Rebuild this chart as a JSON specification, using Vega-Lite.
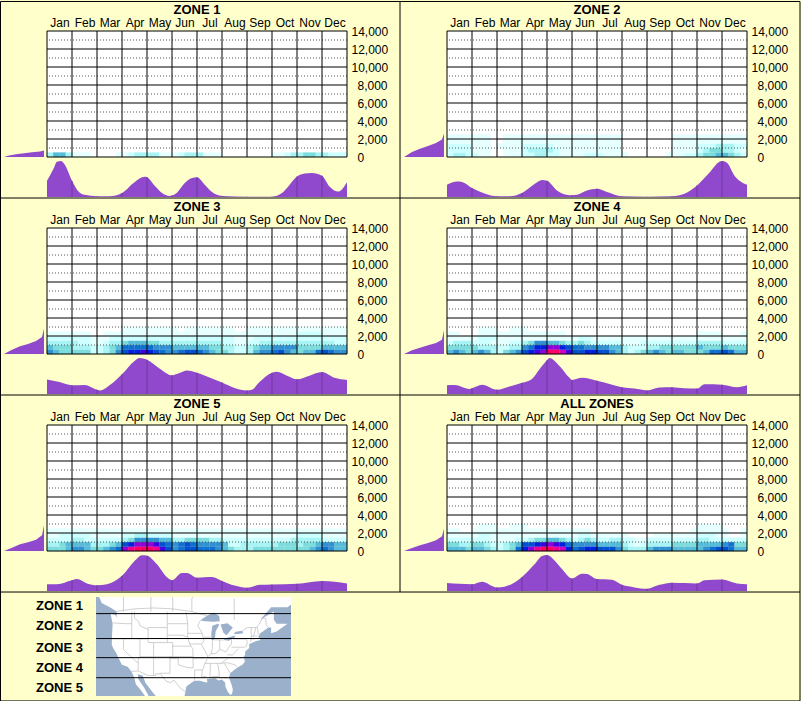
{"$schema":"https://vega.github.io/schema/vega-lite/v6.json","background":"#ffffcc","padding":0,
"config":{"view":{"stroke":null},"font":"Liberation Sans","range":{"ordinal":["#e6ffff","#ccffff","#a8f4f4","#7cdcdc","#55bbd8","#3090d0","#1070d0","#0050d0","#0020e0","#4000e0","#9000d8","#d000c0","#f00090","#ff0060"]},"axis":{"labelFont":"Liberation Sans","labelFontSize":12,"labelColor":"#000"}},
"datasets":{
"none":[{"a":0}],
"yd":[{"e":1000},{"e":3000},{"e":5000},{"e":7000},{"e":9000},{"e":11000},{"e":13000}],
"ys":[{"e":0},{"e":2000},{"e":4000},{"e":6000},{"e":8000},{"e":10000},{"e":12000},{"e":14000}],
"mg":[{"w":-0.5},{"w":3.5},{"w":7.5},{"w":11.5},{"w":15.5},{"w":19.5},{"w":23.5},{"w":27.5},{"w":31.5},{"w":35.5},{"w":39.5},{"w":43.5},{"w":47.5}],
"frame":[{"x":0.00125,"x2":2,"y":0.0025,"y2":0.0025},{"x":0.00125,"x2":2,"y":1,"y2":1},{"x":0.00125,"x2":2,"y":2,"y2":2},{"x":0.00125,"x2":2,"y":3,"y2":3},{"x":0.00125,"x2":2,"y":3.553,"y2":3.553},{"x":0.00125,"x2":0.00125,"y":0.0025,"y2":3.553},{"x":1,"x2":1,"y":0.0025,"y2":3},{"x":2,"x2":2,"y":0.0025,"y2":3.553}],
"l1":[{"f":0,"h":0},{"f":10,"h":130},{"f":30,"h":300},{"f":50,"h":420},{"f":70,"h":530},{"f":90,"h":620},{"f":100,"h":720}],
"l2":[{"f":0,"h":0},{"f":20,"h":555},{"f":40,"h":925},{"f":60,"h":1220},{"f":80,"h":1555},{"f":95,"h":1950},{"f":100,"h":2600}],
"l3":[{"f":0,"h":0},{"f":20,"h":480},{"f":40,"h":850},{"f":60,"h":1110},{"f":80,"h":1440},{"f":95,"h":1890},{"f":100,"h":2800}],
"l4":[{"f":0,"h":0},{"f":20,"h":410},{"f":40,"h":700},{"f":60,"h":960},{"f":80,"h":1220},{"f":95,"h":1590},{"f":100,"h":2630}],
"l5":[{"f":0,"h":0},{"f":20,"h":370},{"f":40,"h":740},{"f":60,"h":960},{"f":80,"h":1260},{"f":95,"h":1740},{"f":100,"h":2850}],
"l6":[{"f":0,"h":0},{"f":20,"h":330},{"f":40,"h":630},{"f":60,"h":890},{"f":80,"h":1185},{"f":95,"h":1630},{"f":100,"h":2480}],
"b1":[{"t":0,"v":45},{"t":0.25,"v":77},{"t":0.4,"v":98},{"t":0.55,"v":100},{"t":0.7,"v":91},{"t":1,"v":45},{"t":1.25,"v":16},{"t":1.5,"v":6},{"t":2,"v":2},{"t":2.5,"v":2},{"t":3,"v":11},{"t":3.5,"v":41},{"t":3.9,"v":56},{"t":4,"v":55},{"t":4.3,"v":32},{"t":4.6,"v":11},{"t":4.9,"v":3},{"t":5,"v":4},{"t":5.2,"v":12},{"t":5.5,"v":38},{"t":5.8,"v":53},{"t":6,"v":55},{"t":6.3,"v":35},{"t":6.6,"v":14},{"t":7,"v":3},{"t":8,"v":1},{"t":9,"v":1},{"t":9.4,"v":11},{"t":9.6,"v":25},{"t":10,"v":57},{"t":10.3,"v":65},{"t":10.6,"v":67},{"t":11,"v":59},{"t":11.3,"v":29},{"t":11.65,"v":15},{"t":12,"v":41}],
"b2":[{"t":0,"v":34},{"t":0.4,"v":43},{"t":0.6,"v":42},{"t":1,"v":25},{"t":1.5,"v":10},{"t":2,"v":2},{"t":2.5,"v":2},{"t":3,"v":11},{"t":3.5,"v":36},{"t":3.8,"v":47},{"t":4,"v":45},{"t":4.4,"v":18},{"t":4.9,"v":5},{"t":5,"v":5},{"t":5.2,"v":6},{"t":5.6,"v":18},{"t":6,"v":23},{"t":6.4,"v":14},{"t":6.9,"v":3},{"t":7,"v":2},{"t":8,"v":1},{"t":9,"v":2},{"t":9.5,"v":9},{"t":10,"v":32},{"t":10.5,"v":68},{"t":10.9,"v":98},{"t":11,"v":100},{"t":11.2,"v":95},{"t":11.5,"v":59},{"t":11.7,"v":45},{"t":12,"v":34}],
"b3":[{"t":0,"v":40},{"t":0.5,"v":33},{"t":1,"v":24},{"t":1.5,"v":25},{"t":2,"v":12},{"t":2.15,"v":10},{"t":2.5,"v":24},{"t":3,"v":55},{"t":3.5,"v":92},{"t":3.7,"v":100},{"t":4,"v":95},{"t":4.5,"v":71},{"t":5,"v":52},{"t":5.3,"v":58},{"t":5.6,"v":65},{"t":6,"v":59},{"t":6.5,"v":46},{"t":7,"v":32},{"t":7.5,"v":17},{"t":8,"v":10},{"t":8.2,"v":12},{"t":8.5,"v":33},{"t":9,"v":59},{"t":9.2,"v":62},{"t":9.6,"v":51},{"t":10,"v":41},{"t":10.5,"v":51},{"t":11,"v":61},{"t":11.5,"v":45},{"t":12,"v":39}],
"b4":[{"t":0,"v":24},{"t":0.3,"v":25},{"t":0.9,"v":14},{"t":1,"v":16},{"t":1.4,"v":26},{"t":2,"v":12},{"t":2.5,"v":21},{"t":3,"v":31},{"t":3.4,"v":42},{"t":3.7,"v":69},{"t":4,"v":94},{"t":4.1,"v":100},{"t":4.5,"v":78},{"t":4.9,"v":45},{"t":5,"v":39},{"t":5.4,"v":45},{"t":6,"v":37},{"t":6.5,"v":28},{"t":7,"v":19},{"t":7.5,"v":15},{"t":8,"v":10},{"t":8.5,"v":18},{"t":9,"v":19},{"t":9.5,"v":16},{"t":10,"v":15},{"t":10.3,"v":27},{"t":11,"v":26},{"t":11.6,"v":19},{"t":12,"v":24}],
"b5":[{"t":0,"v":19},{"t":0.4,"v":19},{"t":1,"v":30},{"t":1.2,"v":33},{"t":1.6,"v":21},{"t":2,"v":16},{"t":2.4,"v":19},{"t":3,"v":42},{"t":3.5,"v":83},{"t":3.8,"v":99},{"t":4,"v":98},{"t":4.4,"v":74},{"t":4.8,"v":38},{"t":5,"v":30},{"t":5.4,"v":50},{"t":5.6,"v":50},{"t":6,"v":37},{"t":6.6,"v":39},{"t":7,"v":28},{"t":7.5,"v":15},{"t":8,"v":9},{"t":8.5,"v":17},{"t":9,"v":18},{"t":10,"v":20},{"t":11,"v":28},{"t":11.5,"v":26},{"t":12,"v":21}],
"b6":[{"t":0,"v":22},{"t":0.5,"v":20},{"t":1,"v":19},{"t":1.4,"v":26},{"t":2,"v":10},{"t":2.3,"v":12},{"t":3,"v":39},{"t":3.5,"v":74},{"t":3.8,"v":97},{"t":4,"v":100},{"t":4.3,"v":85},{"t":4.6,"v":61},{"t":5,"v":35},{"t":5.4,"v":48},{"t":5.6,"v":47},{"t":6,"v":33},{"t":6.6,"v":31},{"t":7,"v":17},{"t":7.5,"v":10},{"t":8,"v":6},{"t":8.5,"v":17},{"t":9,"v":23},{"t":9.5,"v":22},{"t":10,"v":21},{"t":10.3,"v":30},{"t":11,"v":32},{"t":11.6,"v":21},{"t":12,"v":19}],
"h1":[{"w":0,"e":250,"n":3},{"w":1,"e":250,"n":5},{"w":2,"e":250,"n":5},{"w":3,"e":250,"n":3},{"w":4,"e":250,"n":1},{"w":5,"e":250,"n":1},{"w":6,"e":250,"n":1},{"w":11,"e":250,"n":1},{"w":12,"e":250,"n":1},{"w":13,"e":250,"n":2},{"w":14,"e":250,"n":3},{"w":15,"e":250,"n":3},{"w":16,"e":250,"n":3},{"w":17,"e":250,"n":3},{"w":18,"e":250,"n":1},{"w":19,"e":250,"n":1},{"w":20,"e":250,"n":1},{"w":21,"e":250,"n":2},{"w":22,"e":250,"n":3},{"w":23,"e":250,"n":3},{"w":24,"e":250,"n":3},{"w":25,"e":250,"n":1},{"w":26,"e":250,"n":1},{"w":27,"e":250,"n":1},{"w":36,"e":250,"n":1},{"w":37,"e":250,"n":1},{"w":38,"e":250,"n":2},{"w":39,"e":250,"n":3},{"w":40,"e":250,"n":3},{"w":41,"e":250,"n":4},{"w":42,"e":250,"n":4},{"w":43,"e":250,"n":3},{"w":44,"e":250,"n":3},{"w":45,"e":250,"n":2},{"w":46,"e":250,"n":2},{"w":47,"e":250,"n":2}],
"h2":[{"w":0,"e":250,"n":2},{"w":1,"e":250,"n":3},{"w":2,"e":250,"n":3},{"w":3,"e":250,"n":2},{"w":4,"e":250,"n":2},{"w":5,"e":250,"n":1},{"w":6,"e":250,"n":1},{"w":9,"e":250,"n":1},{"w":10,"e":250,"n":1},{"w":11,"e":250,"n":1},{"w":12,"e":250,"n":2},{"w":13,"e":250,"n":2},{"w":14,"e":250,"n":3},{"w":15,"e":250,"n":3},{"w":16,"e":250,"n":2},{"w":17,"e":250,"n":2},{"w":18,"e":250,"n":1},{"w":19,"e":250,"n":1},{"w":20,"e":250,"n":1},{"w":21,"e":250,"n":1},{"w":22,"e":250,"n":2},{"w":23,"e":250,"n":2},{"w":24,"e":250,"n":2},{"w":25,"e":250,"n":1},{"w":26,"e":250,"n":1},{"w":27,"e":250,"n":1},{"w":28,"e":250,"n":1},{"w":35,"e":250,"n":1},{"w":36,"e":250,"n":1},{"w":37,"e":250,"n":1},{"w":38,"e":250,"n":2},{"w":39,"e":250,"n":2},{"w":40,"e":250,"n":3},{"w":41,"e":250,"n":4},{"w":42,"e":250,"n":4},{"w":43,"e":250,"n":5},{"w":44,"e":250,"n":5},{"w":45,"e":250,"n":4},{"w":46,"e":250,"n":3},{"w":47,"e":250,"n":2},
{"w":0,"e":750,"n":2},{"w":1,"e":750,"n":2},{"w":2,"e":750,"n":2},{"w":3,"e":750,"n":2},{"w":4,"e":750,"n":1},{"w":5,"e":750,"n":1},{"w":6,"e":750,"n":1},{"w":9,"e":750,"n":1},{"w":10,"e":750,"n":1},{"w":11,"e":750,"n":1},{"w":12,"e":750,"n":2},{"w":13,"e":750,"n":3},{"w":14,"e":750,"n":3},{"w":15,"e":750,"n":3},{"w":16,"e":750,"n":3},{"w":17,"e":750,"n":2},{"w":18,"e":750,"n":1},{"w":19,"e":750,"n":1},{"w":20,"e":750,"n":1},{"w":21,"e":750,"n":1},{"w":22,"e":750,"n":1},{"w":23,"e":750,"n":1},{"w":24,"e":750,"n":1},{"w":25,"e":750,"n":1},{"w":26,"e":750,"n":1},{"w":27,"e":750,"n":1},{"w":36,"e":750,"n":1},{"w":37,"e":750,"n":1},{"w":38,"e":750,"n":1},{"w":39,"e":750,"n":1},{"w":40,"e":750,"n":2},{"w":41,"e":750,"n":3},{"w":42,"e":750,"n":4},{"w":43,"e":750,"n":4},{"w":44,"e":750,"n":3},{"w":45,"e":750,"n":3},{"w":46,"e":750,"n":2},{"w":47,"e":750,"n":1},
{"w":0,"e":1250,"n":2},{"w":1,"e":1250,"n":2},{"w":2,"e":1250,"n":2},{"w":3,"e":1250,"n":2},{"w":4,"e":1250,"n":1},{"w":5,"e":1250,"n":1},{"w":6,"e":1250,"n":1},{"w":8,"e":1250,"n":1},{"w":9,"e":1250,"n":1},{"w":10,"e":1250,"n":1},{"w":11,"e":1250,"n":1},{"w":12,"e":1250,"n":2},{"w":13,"e":1250,"n":2},{"w":14,"e":1250,"n":2},{"w":15,"e":1250,"n":2},{"w":16,"e":1250,"n":2},{"w":17,"e":1250,"n":1},{"w":18,"e":1250,"n":1},{"w":19,"e":1250,"n":1},{"w":20,"e":1250,"n":1},{"w":21,"e":1250,"n":1},{"w":22,"e":1250,"n":1},{"w":23,"e":1250,"n":1},{"w":24,"e":1250,"n":1},{"w":25,"e":1250,"n":1},{"w":26,"e":1250,"n":1},{"w":27,"e":1250,"n":1},{"w":36,"e":1250,"n":1},{"w":37,"e":1250,"n":1},{"w":38,"e":1250,"n":1},{"w":39,"e":1250,"n":1},{"w":40,"e":1250,"n":2},{"w":41,"e":1250,"n":2},{"w":42,"e":1250,"n":2},{"w":43,"e":1250,"n":3},{"w":44,"e":1250,"n":3},{"w":45,"e":1250,"n":3},{"w":46,"e":1250,"n":2},{"w":47,"e":1250,"n":2},
{"w":0,"e":1750,"n":1},{"w":1,"e":1750,"n":1},{"w":2,"e":1750,"n":1},{"w":3,"e":1750,"n":1},{"w":4,"e":1750,"n":1},{"w":5,"e":1750,"n":1},{"w":6,"e":1750,"n":1},{"w":9,"e":1750,"n":1},{"w":10,"e":1750,"n":1},{"w":11,"e":1750,"n":1},{"w":12,"e":1750,"n":1},{"w":13,"e":1750,"n":1},{"w":14,"e":1750,"n":1},{"w":15,"e":1750,"n":1},{"w":16,"e":1750,"n":1},{"w":17,"e":1750,"n":1},{"w":18,"e":1750,"n":1},{"w":19,"e":1750,"n":1},{"w":20,"e":1750,"n":1},{"w":21,"e":1750,"n":1},{"w":22,"e":1750,"n":1},{"w":23,"e":1750,"n":1},{"w":24,"e":1750,"n":1},{"w":25,"e":1750,"n":1},{"w":26,"e":1750,"n":1},{"w":27,"e":1750,"n":1},{"w":36,"e":1750,"n":1},{"w":37,"e":1750,"n":1},{"w":38,"e":1750,"n":1},{"w":39,"e":1750,"n":1},{"w":40,"e":1750,"n":1},{"w":41,"e":1750,"n":1},{"w":42,"e":1750,"n":1},{"w":43,"e":1750,"n":1},{"w":44,"e":1750,"n":1},{"w":45,"e":1750,"n":1},{"w":46,"e":1750,"n":1},{"w":47,"e":1750,"n":1},
{"w":0,"e":2250,"n":1},{"w":1,"e":2250,"n":1},{"w":2,"e":2250,"n":1},{"w":3,"e":2250,"n":1},{"w":4,"e":2250,"n":1},{"w":5,"e":2250,"n":1},{"w":6,"e":2250,"n":1},{"w":9,"e":2250,"n":1},{"w":10,"e":2250,"n":1},{"w":11,"e":2250,"n":1},{"w":12,"e":2250,"n":1},{"w":13,"e":2250,"n":1},{"w":14,"e":2250,"n":1},{"w":15,"e":2250,"n":1},{"w":16,"e":2250,"n":1},{"w":17,"e":2250,"n":1},{"w":18,"e":2250,"n":1},{"w":19,"e":2250,"n":1},{"w":20,"e":2250,"n":1},{"w":21,"e":2250,"n":1},{"w":22,"e":2250,"n":1},{"w":23,"e":2250,"n":1},{"w":24,"e":2250,"n":1},{"w":25,"e":2250,"n":1},{"w":26,"e":2250,"n":1},{"w":27,"e":2250,"n":1},{"w":36,"e":2250,"n":1},{"w":37,"e":2250,"n":1},{"w":38,"e":2250,"n":1},{"w":39,"e":2250,"n":1},{"w":40,"e":2250,"n":1},{"w":41,"e":2250,"n":1},{"w":42,"e":2250,"n":1},{"w":43,"e":2250,"n":1},{"w":44,"e":2250,"n":1},{"w":45,"e":2250,"n":1},{"w":46,"e":2250,"n":1},{"w":47,"e":2250,"n":1}],
"h3":[{"w":0,"e":250,"n":6},{"w":1,"e":250,"n":5},{"w":2,"e":250,"n":4},{"w":3,"e":250,"n":4},{"w":4,"e":250,"n":4},{"w":5,"e":250,"n":4},{"w":6,"e":250,"n":4},{"w":7,"e":250,"n":2},{"w":8,"e":250,"n":2},{"w":9,"e":250,"n":3},{"w":10,"e":250,"n":4},{"w":11,"e":250,"n":6},{"w":12,"e":250,"n":8},{"w":13,"e":250,"n":9},{"w":14,"e":250,"n":9},{"w":15,"e":250,"n":10},{"w":16,"e":250,"n":9},{"w":17,"e":250,"n":8},{"w":18,"e":250,"n":7},{"w":19,"e":250,"n":6},{"w":20,"e":250,"n":6},{"w":21,"e":250,"n":7},{"w":22,"e":250,"n":8},{"w":23,"e":250,"n":8},{"w":24,"e":250,"n":7},{"w":25,"e":250,"n":6},{"w":26,"e":250,"n":5},{"w":27,"e":250,"n":4},{"w":28,"e":250,"n":4},{"w":29,"e":250,"n":3},{"w":30,"e":250,"n":2},{"w":31,"e":250,"n":2},{"w":32,"e":250,"n":3},{"w":33,"e":250,"n":5},{"w":34,"e":250,"n":6},{"w":35,"e":250,"n":6},{"w":36,"e":250,"n":7},{"w":37,"e":250,"n":8},{"w":38,"e":250,"n":6},{"w":39,"e":250,"n":5},{"w":40,"e":250,"n":4},{"w":41,"e":250,"n":5},{"w":42,"e":250,"n":5},{"w":43,"e":250,"n":7},{"w":44,"e":250,"n":8},{"w":45,"e":250,"n":7},{"w":46,"e":250,"n":6},{"w":47,"e":250,"n":6},
{"w":0,"e":750,"n":5},{"w":1,"e":750,"n":4},{"w":2,"e":750,"n":4},{"w":3,"e":750,"n":4},{"w":4,"e":750,"n":3},{"w":5,"e":750,"n":3},{"w":6,"e":750,"n":3},{"w":7,"e":750,"n":2},{"w":8,"e":750,"n":2},{"w":9,"e":750,"n":3},{"w":10,"e":750,"n":4},{"w":11,"e":750,"n":5},{"w":12,"e":750,"n":7},{"w":13,"e":750,"n":7},{"w":14,"e":750,"n":7},{"w":15,"e":750,"n":7},{"w":16,"e":750,"n":7},{"w":17,"e":750,"n":6},{"w":18,"e":750,"n":6},{"w":19,"e":750,"n":6},{"w":20,"e":750,"n":5},{"w":21,"e":750,"n":5},{"w":22,"e":750,"n":5},{"w":23,"e":750,"n":5},{"w":24,"e":750,"n":5},{"w":25,"e":750,"n":5},{"w":26,"e":750,"n":4},{"w":27,"e":750,"n":4},{"w":28,"e":750,"n":3},{"w":29,"e":750,"n":3},{"w":30,"e":750,"n":2},{"w":31,"e":750,"n":2},{"w":32,"e":750,"n":3},{"w":33,"e":750,"n":4},{"w":34,"e":750,"n":5},{"w":35,"e":750,"n":5},{"w":36,"e":750,"n":6},{"w":37,"e":750,"n":6},{"w":38,"e":750,"n":6},{"w":39,"e":750,"n":6},{"w":40,"e":750,"n":4},{"w":41,"e":750,"n":4},{"w":42,"e":750,"n":4},{"w":43,"e":750,"n":4},{"w":44,"e":750,"n":5},{"w":45,"e":750,"n":5},{"w":46,"e":750,"n":5},{"w":47,"e":750,"n":5},
{"w":0,"e":1250,"n":3},{"w":1,"e":1250,"n":3},{"w":2,"e":1250,"n":3},{"w":3,"e":1250,"n":3},{"w":4,"e":1250,"n":3},{"w":5,"e":1250,"n":2},{"w":6,"e":1250,"n":2},{"w":7,"e":1250,"n":1},{"w":8,"e":1250,"n":1},{"w":9,"e":1250,"n":2},{"w":10,"e":1250,"n":3},{"w":11,"e":1250,"n":3},{"w":12,"e":1250,"n":4},{"w":13,"e":1250,"n":5},{"w":14,"e":1250,"n":5},{"w":15,"e":1250,"n":5},{"w":16,"e":1250,"n":4},{"w":17,"e":1250,"n":4},{"w":18,"e":1250,"n":3},{"w":19,"e":1250,"n":3},{"w":20,"e":1250,"n":3},{"w":21,"e":1250,"n":3},{"w":22,"e":1250,"n":3},{"w":23,"e":1250,"n":3},{"w":24,"e":1250,"n":3},{"w":25,"e":1250,"n":3},{"w":26,"e":1250,"n":3},{"w":27,"e":1250,"n":3},{"w":28,"e":1250,"n":2},{"w":29,"e":1250,"n":2},{"w":30,"e":1250,"n":1},{"w":31,"e":1250,"n":1},{"w":32,"e":1250,"n":2},{"w":33,"e":1250,"n":2},{"w":34,"e":1250,"n":3},{"w":35,"e":1250,"n":3},{"w":36,"e":1250,"n":3},{"w":37,"e":1250,"n":3},{"w":38,"e":1250,"n":3},{"w":39,"e":1250,"n":3},{"w":40,"e":1250,"n":3},{"w":41,"e":1250,"n":3},{"w":42,"e":1250,"n":3},{"w":43,"e":1250,"n":3},{"w":44,"e":1250,"n":3},{"w":45,"e":1250,"n":3},{"w":46,"e":1250,"n":2},{"w":47,"e":1250,"n":2},
{"w":0,"e":1750,"n":2},{"w":1,"e":1750,"n":2},{"w":2,"e":1750,"n":2},{"w":3,"e":1750,"n":2},{"w":4,"e":1750,"n":2},{"w":5,"e":1750,"n":2},{"w":6,"e":1750,"n":2},{"w":7,"e":1750,"n":1},{"w":8,"e":1750,"n":1},{"w":9,"e":1750,"n":1},{"w":10,"e":1750,"n":2},{"w":11,"e":1750,"n":2},{"w":12,"e":1750,"n":2},{"w":13,"e":1750,"n":2},{"w":14,"e":1750,"n":2},{"w":15,"e":1750,"n":2},{"w":16,"e":1750,"n":2},{"w":17,"e":1750,"n":2},{"w":18,"e":1750,"n":2},{"w":19,"e":1750,"n":2},{"w":20,"e":1750,"n":2},{"w":21,"e":1750,"n":2},{"w":22,"e":1750,"n":2},{"w":23,"e":1750,"n":2},{"w":24,"e":1750,"n":2},{"w":25,"e":1750,"n":2},{"w":26,"e":1750,"n":2},{"w":27,"e":1750,"n":2},{"w":28,"e":1750,"n":2},{"w":29,"e":1750,"n":2},{"w":30,"e":1750,"n":1},{"w":31,"e":1750,"n":1},{"w":32,"e":1750,"n":1},{"w":33,"e":1750,"n":2},{"w":34,"e":1750,"n":2},{"w":35,"e":1750,"n":2},{"w":36,"e":1750,"n":2},{"w":37,"e":1750,"n":2},{"w":38,"e":1750,"n":2},{"w":39,"e":1750,"n":2},{"w":40,"e":1750,"n":2},{"w":41,"e":1750,"n":2},{"w":42,"e":1750,"n":2},{"w":43,"e":1750,"n":2},{"w":44,"e":1750,"n":2},{"w":45,"e":1750,"n":2},{"w":46,"e":1750,"n":2},{"w":47,"e":1750,"n":2},
{"w":0,"e":2250,"n":1},{"w":1,"e":2250,"n":1},{"w":2,"e":2250,"n":1},{"w":3,"e":2250,"n":1},{"w":4,"e":2250,"n":1},{"w":5,"e":2250,"n":1},{"w":6,"e":2250,"n":1},{"w":9,"e":2250,"n":1},{"w":10,"e":2250,"n":1},{"w":11,"e":2250,"n":1},{"w":12,"e":2250,"n":1},{"w":13,"e":2250,"n":1},{"w":14,"e":2250,"n":1},{"w":15,"e":2250,"n":1},{"w":16,"e":2250,"n":1},{"w":17,"e":2250,"n":1},{"w":18,"e":2250,"n":1},{"w":19,"e":2250,"n":1},{"w":20,"e":2250,"n":1},{"w":21,"e":2250,"n":1},{"w":22,"e":2250,"n":1},{"w":23,"e":2250,"n":1},{"w":24,"e":2250,"n":1},{"w":25,"e":2250,"n":1},{"w":26,"e":2250,"n":1},{"w":27,"e":2250,"n":1},{"w":28,"e":2250,"n":1},{"w":29,"e":2250,"n":1},{"w":30,"e":2250,"n":1},{"w":31,"e":2250,"n":1},{"w":32,"e":2250,"n":1},{"w":33,"e":2250,"n":1},{"w":34,"e":2250,"n":1},{"w":35,"e":2250,"n":1},{"w":36,"e":2250,"n":1},{"w":37,"e":2250,"n":1},{"w":38,"e":2250,"n":1},{"w":39,"e":2250,"n":1},{"w":40,"e":2250,"n":2},{"w":41,"e":2250,"n":2},{"w":42,"e":2250,"n":2},{"w":43,"e":2250,"n":2},{"w":44,"e":2250,"n":1},{"w":45,"e":2250,"n":1},{"w":46,"e":2250,"n":1},{"w":47,"e":2250,"n":1},
{"w":12,"e":2750,"n":1},{"w":13,"e":2750,"n":1},{"w":14,"e":2750,"n":1},{"w":15,"e":2750,"n":1},{"w":16,"e":2750,"n":1},{"w":17,"e":2750,"n":1},{"w":18,"e":2750,"n":1},{"w":19,"e":2750,"n":1},{"w":20,"e":2750,"n":1},{"w":22,"e":2750,"n":1},{"w":23,"e":2750,"n":1},{"w":24,"e":2750,"n":1},{"w":25,"e":2750,"n":1},{"w":26,"e":2750,"n":1},{"w":27,"e":2750,"n":1},{"w":28,"e":2750,"n":1},{"w":29,"e":2750,"n":1},{"w":32,"e":2750,"n":1},{"w":33,"e":2750,"n":1},{"w":34,"e":2750,"n":1},{"w":35,"e":2750,"n":1},{"w":36,"e":2750,"n":1},{"w":37,"e":2750,"n":1},{"w":38,"e":2750,"n":1},{"w":39,"e":2750,"n":1},{"w":40,"e":2750,"n":1},{"w":41,"e":2750,"n":1},{"w":42,"e":2750,"n":1},{"w":43,"e":2750,"n":1},{"w":44,"e":2750,"n":1},{"w":45,"e":2750,"n":1},{"w":46,"e":2750,"n":1},{"w":47,"e":2750,"n":1}],
"h4":[{"w":0,"e":250,"n":5},{"w":1,"e":250,"n":6},{"w":2,"e":250,"n":5},{"w":3,"e":250,"n":4},{"w":4,"e":250,"n":5},{"w":5,"e":250,"n":6},{"w":6,"e":250,"n":5},{"w":7,"e":250,"n":3},{"w":8,"e":250,"n":2},{"w":9,"e":250,"n":4},{"w":10,"e":250,"n":5},{"w":11,"e":250,"n":6},{"w":12,"e":250,"n":8},{"w":13,"e":250,"n":9},{"w":14,"e":250,"n":10},{"w":15,"e":250,"n":11},{"w":16,"e":250,"n":14},{"w":17,"e":250,"n":14},{"w":18,"e":250,"n":12},{"w":19,"e":250,"n":10},{"w":20,"e":250,"n":8},{"w":21,"e":250,"n":8},{"w":22,"e":250,"n":9},{"w":23,"e":250,"n":9},{"w":24,"e":250,"n":8},{"w":25,"e":250,"n":8},{"w":26,"e":250,"n":6},{"w":27,"e":250,"n":5},{"w":28,"e":250,"n":3},{"w":29,"e":250,"n":2},{"w":30,"e":250,"n":3},{"w":31,"e":250,"n":4},{"w":32,"e":250,"n":5},{"w":33,"e":250,"n":6},{"w":34,"e":250,"n":5},{"w":35,"e":250,"n":4},{"w":36,"e":250,"n":5},{"w":37,"e":250,"n":5},{"w":38,"e":250,"n":4},{"w":39,"e":250,"n":4},{"w":40,"e":250,"n":4},{"w":41,"e":250,"n":5},{"w":42,"e":250,"n":7},{"w":43,"e":250,"n":7},{"w":44,"e":250,"n":8},{"w":45,"e":250,"n":7},{"w":46,"e":250,"n":5},{"w":47,"e":250,"n":5},
{"w":0,"e":750,"n":4},{"w":1,"e":750,"n":4},{"w":2,"e":750,"n":4},{"w":3,"e":750,"n":4},{"w":4,"e":750,"n":4},{"w":5,"e":750,"n":3},{"w":6,"e":750,"n":3},{"w":7,"e":750,"n":3},{"w":8,"e":750,"n":2},{"w":9,"e":750,"n":2},{"w":10,"e":750,"n":3},{"w":11,"e":750,"n":3},{"w":12,"e":750,"n":6},{"w":13,"e":750,"n":7},{"w":14,"e":750,"n":9},{"w":15,"e":750,"n":9},{"w":16,"e":750,"n":11},{"w":17,"e":750,"n":11},{"w":18,"e":750,"n":9},{"w":19,"e":750,"n":8},{"w":20,"e":750,"n":7},{"w":21,"e":750,"n":7},{"w":22,"e":750,"n":6},{"w":23,"e":750,"n":6},{"w":24,"e":750,"n":6},{"w":25,"e":750,"n":6},{"w":26,"e":750,"n":5},{"w":27,"e":750,"n":5},{"w":28,"e":750,"n":3},{"w":29,"e":750,"n":2},{"w":30,"e":750,"n":2},{"w":31,"e":750,"n":2},{"w":32,"e":750,"n":3},{"w":33,"e":750,"n":3},{"w":34,"e":750,"n":4},{"w":35,"e":750,"n":4},{"w":36,"e":750,"n":4},{"w":37,"e":750,"n":4},{"w":38,"e":750,"n":4},{"w":39,"e":750,"n":4},{"w":40,"e":750,"n":5},{"w":41,"e":750,"n":4},{"w":42,"e":750,"n":4},{"w":43,"e":750,"n":4},{"w":44,"e":750,"n":5},{"w":45,"e":750,"n":4},{"w":46,"e":750,"n":4},{"w":47,"e":750,"n":4},
{"w":0,"e":1250,"n":2},{"w":1,"e":1250,"n":3},{"w":2,"e":1250,"n":3},{"w":3,"e":1250,"n":3},{"w":4,"e":1250,"n":2},{"w":5,"e":1250,"n":2},{"w":6,"e":1250,"n":2},{"w":7,"e":1250,"n":1},{"w":8,"e":1250,"n":1},{"w":9,"e":1250,"n":1},{"w":10,"e":1250,"n":2},{"w":11,"e":1250,"n":2},{"w":12,"e":1250,"n":3},{"w":13,"e":1250,"n":4},{"w":14,"e":1250,"n":6},{"w":15,"e":1250,"n":6},{"w":16,"e":1250,"n":5},{"w":17,"e":1250,"n":5},{"w":18,"e":1250,"n":4},{"w":19,"e":1250,"n":3},{"w":20,"e":1250,"n":3},{"w":21,"e":1250,"n":4},{"w":22,"e":1250,"n":3},{"w":23,"e":1250,"n":2},{"w":24,"e":1250,"n":2},{"w":25,"e":1250,"n":2},{"w":26,"e":1250,"n":2},{"w":27,"e":1250,"n":2},{"w":28,"e":1250,"n":1},{"w":29,"e":1250,"n":1},{"w":30,"e":1250,"n":1},{"w":31,"e":1250,"n":2},{"w":32,"e":1250,"n":2},{"w":33,"e":1250,"n":2},{"w":34,"e":1250,"n":2},{"w":35,"e":1250,"n":2},{"w":36,"e":1250,"n":2},{"w":37,"e":1250,"n":2},{"w":38,"e":1250,"n":2},{"w":39,"e":1250,"n":2},{"w":40,"e":1250,"n":3},{"w":41,"e":1250,"n":3},{"w":42,"e":1250,"n":3},{"w":43,"e":1250,"n":3},{"w":44,"e":1250,"n":2},{"w":45,"e":1250,"n":2},{"w":46,"e":1250,"n":2},{"w":47,"e":1250,"n":2},
{"w":0,"e":1750,"n":1},{"w":1,"e":1750,"n":1},{"w":2,"e":1750,"n":1},{"w":3,"e":1750,"n":1},{"w":4,"e":1750,"n":1},{"w":5,"e":1750,"n":2},{"w":6,"e":1750,"n":2},{"w":7,"e":1750,"n":2},{"w":8,"e":1750,"n":1},{"w":9,"e":1750,"n":1},{"w":10,"e":1750,"n":1},{"w":11,"e":1750,"n":1},{"w":12,"e":1750,"n":1},{"w":13,"e":1750,"n":1},{"w":14,"e":1750,"n":1},{"w":15,"e":1750,"n":1},{"w":16,"e":1750,"n":1},{"w":17,"e":1750,"n":1},{"w":18,"e":1750,"n":1},{"w":19,"e":1750,"n":1},{"w":20,"e":1750,"n":1},{"w":21,"e":1750,"n":2},{"w":22,"e":1750,"n":2},{"w":23,"e":1750,"n":1},{"w":24,"e":1750,"n":1},{"w":25,"e":1750,"n":1},{"w":26,"e":1750,"n":1},{"w":27,"e":1750,"n":1},{"w":28,"e":1750,"n":1},{"w":29,"e":1750,"n":1},{"w":30,"e":1750,"n":1},{"w":31,"e":1750,"n":1},{"w":32,"e":1750,"n":1},{"w":33,"e":1750,"n":1},{"w":34,"e":1750,"n":1},{"w":35,"e":1750,"n":1},{"w":36,"e":1750,"n":1},{"w":37,"e":1750,"n":1},{"w":38,"e":1750,"n":1},{"w":39,"e":1750,"n":1},{"w":40,"e":1750,"n":1},{"w":41,"e":1750,"n":1},{"w":42,"e":1750,"n":1},{"w":43,"e":1750,"n":1},{"w":44,"e":1750,"n":1},{"w":45,"e":1750,"n":1},{"w":46,"e":1750,"n":1},{"w":47,"e":1750,"n":1},
{"w":0,"e":2250,"n":1},{"w":1,"e":2250,"n":1},{"w":5,"e":2250,"n":1},{"w":6,"e":2250,"n":1},{"w":7,"e":2250,"n":1},{"w":8,"e":2250,"n":1},{"w":9,"e":2250,"n":1},{"w":10,"e":2250,"n":1},{"w":11,"e":2250,"n":1},{"w":12,"e":2250,"n":1},{"w":13,"e":2250,"n":1},{"w":14,"e":2250,"n":1},{"w":15,"e":2250,"n":1},{"w":16,"e":2250,"n":1},{"w":17,"e":2250,"n":1},{"w":18,"e":2250,"n":1},{"w":40,"e":2250,"n":1},{"w":41,"e":2250,"n":1},{"w":42,"e":2250,"n":1},{"w":43,"e":2250,"n":1},{"w":47,"e":2250,"n":1},
{"w":5,"e":2750,"n":1},{"w":6,"e":2750,"n":1},{"w":7,"e":2750,"n":1},{"w":10,"e":2750,"n":1},{"w":11,"e":2750,"n":1},{"w":12,"e":2750,"n":1}],
"h5":[{"w":0,"e":250,"n":4},{"w":1,"e":250,"n":4},{"w":2,"e":250,"n":4},{"w":3,"e":250,"n":5},{"w":4,"e":250,"n":6},{"w":5,"e":250,"n":6},{"w":6,"e":250,"n":5},{"w":7,"e":250,"n":4},{"w":8,"e":250,"n":4},{"w":9,"e":250,"n":5},{"w":10,"e":250,"n":6},{"w":11,"e":250,"n":7},{"w":12,"e":250,"n":11},{"w":13,"e":250,"n":13},{"w":14,"e":250,"n":14},{"w":15,"e":250,"n":14},{"w":16,"e":250,"n":14},{"w":17,"e":250,"n":13},{"w":18,"e":250,"n":10},{"w":19,"e":250,"n":8},{"w":20,"e":250,"n":6},{"w":21,"e":250,"n":7},{"w":22,"e":250,"n":8},{"w":23,"e":250,"n":8},{"w":24,"e":250,"n":7},{"w":25,"e":250,"n":7},{"w":26,"e":250,"n":7},{"w":27,"e":250,"n":6},{"w":28,"e":250,"n":5},{"w":29,"e":250,"n":4},{"w":30,"e":250,"n":3},{"w":31,"e":250,"n":3},{"w":32,"e":250,"n":3},{"w":33,"e":250,"n":4},{"w":34,"e":250,"n":4},{"w":35,"e":250,"n":4},{"w":36,"e":250,"n":4},{"w":37,"e":250,"n":4},{"w":38,"e":250,"n":4},{"w":39,"e":250,"n":4},{"w":40,"e":250,"n":4},{"w":41,"e":250,"n":4},{"w":42,"e":250,"n":5},{"w":43,"e":250,"n":6},{"w":44,"e":250,"n":7},{"w":45,"e":250,"n":6},{"w":46,"e":250,"n":5},{"w":47,"e":250,"n":5},
{"w":0,"e":750,"n":3},{"w":1,"e":750,"n":3},{"w":2,"e":750,"n":4},{"w":3,"e":750,"n":5},{"w":4,"e":750,"n":5},{"w":5,"e":750,"n":5},{"w":6,"e":750,"n":5},{"w":7,"e":750,"n":3},{"w":8,"e":750,"n":3},{"w":9,"e":750,"n":3},{"w":10,"e":750,"n":4},{"w":11,"e":750,"n":5},{"w":12,"e":750,"n":8},{"w":13,"e":750,"n":9},{"w":14,"e":750,"n":11},{"w":15,"e":750,"n":11},{"w":16,"e":750,"n":11},{"w":17,"e":750,"n":10},{"w":18,"e":750,"n":8},{"w":19,"e":750,"n":7},{"w":20,"e":750,"n":6},{"w":21,"e":750,"n":7},{"w":22,"e":750,"n":8},{"w":23,"e":750,"n":7},{"w":24,"e":750,"n":6},{"w":25,"e":750,"n":6},{"w":26,"e":750,"n":6},{"w":27,"e":750,"n":6},{"w":28,"e":750,"n":5},{"w":29,"e":750,"n":2},{"w":30,"e":750,"n":2},{"w":31,"e":750,"n":3},{"w":32,"e":750,"n":3},{"w":33,"e":750,"n":3},{"w":34,"e":750,"n":3},{"w":35,"e":750,"n":3},{"w":36,"e":750,"n":3},{"w":37,"e":750,"n":4},{"w":38,"e":750,"n":4},{"w":39,"e":750,"n":4},{"w":40,"e":750,"n":3},{"w":41,"e":750,"n":4},{"w":42,"e":750,"n":4},{"w":43,"e":750,"n":5},{"w":44,"e":750,"n":6},{"w":45,"e":750,"n":6},{"w":46,"e":750,"n":5},{"w":47,"e":750,"n":5},
{"w":0,"e":1250,"n":2},{"w":1,"e":1250,"n":2},{"w":2,"e":1250,"n":2},{"w":3,"e":1250,"n":2},{"w":4,"e":1250,"n":3},{"w":5,"e":1250,"n":3},{"w":6,"e":1250,"n":2},{"w":7,"e":1250,"n":2},{"w":8,"e":1250,"n":2},{"w":9,"e":1250,"n":2},{"w":10,"e":1250,"n":2},{"w":11,"e":1250,"n":2},{"w":12,"e":1250,"n":3},{"w":13,"e":1250,"n":4},{"w":14,"e":1250,"n":6},{"w":15,"e":1250,"n":6},{"w":16,"e":1250,"n":6},{"w":17,"e":1250,"n":6},{"w":18,"e":1250,"n":5},{"w":19,"e":1250,"n":5},{"w":20,"e":1250,"n":3},{"w":21,"e":1250,"n":3},{"w":22,"e":1250,"n":4},{"w":23,"e":1250,"n":4},{"w":24,"e":1250,"n":4},{"w":25,"e":1250,"n":4},{"w":26,"e":1250,"n":3},{"w":27,"e":1250,"n":3},{"w":28,"e":1250,"n":2},{"w":29,"e":1250,"n":2},{"w":30,"e":1250,"n":2},{"w":31,"e":1250,"n":2},{"w":32,"e":1250,"n":2},{"w":33,"e":1250,"n":2},{"w":34,"e":1250,"n":2},{"w":35,"e":1250,"n":2},{"w":36,"e":1250,"n":2},{"w":37,"e":1250,"n":2},{"w":38,"e":1250,"n":2},{"w":39,"e":1250,"n":3},{"w":40,"e":1250,"n":3},{"w":41,"e":1250,"n":3},{"w":42,"e":1250,"n":3},{"w":43,"e":1250,"n":3},{"w":44,"e":1250,"n":2},{"w":45,"e":1250,"n":2},{"w":46,"e":1250,"n":2},{"w":47,"e":1250,"n":2},
{"w":0,"e":1750,"n":1},{"w":1,"e":1750,"n":1},{"w":2,"e":1750,"n":2},{"w":3,"e":1750,"n":2},{"w":4,"e":1750,"n":2},{"w":5,"e":1750,"n":2},{"w":6,"e":1750,"n":2},{"w":7,"e":1750,"n":1},{"w":8,"e":1750,"n":1},{"w":9,"e":1750,"n":1},{"w":10,"e":1750,"n":1},{"w":11,"e":1750,"n":1},{"w":12,"e":1750,"n":2},{"w":13,"e":1750,"n":2},{"w":14,"e":1750,"n":3},{"w":15,"e":1750,"n":3},{"w":16,"e":1750,"n":2},{"w":17,"e":1750,"n":2},{"w":18,"e":1750,"n":2},{"w":19,"e":1750,"n":2},{"w":20,"e":1750,"n":1},{"w":21,"e":1750,"n":1},{"w":22,"e":1750,"n":1},{"w":23,"e":1750,"n":1},{"w":24,"e":1750,"n":1},{"w":25,"e":1750,"n":1},{"w":26,"e":1750,"n":1},{"w":27,"e":1750,"n":1},{"w":28,"e":1750,"n":1},{"w":29,"e":1750,"n":1},{"w":30,"e":1750,"n":1},{"w":31,"e":1750,"n":1},{"w":32,"e":1750,"n":1},{"w":33,"e":1750,"n":1},{"w":34,"e":1750,"n":1},{"w":35,"e":1750,"n":1},{"w":36,"e":1750,"n":1},{"w":37,"e":1750,"n":1},{"w":38,"e":1750,"n":1},{"w":39,"e":1750,"n":1},{"w":40,"e":1750,"n":2},{"w":41,"e":1750,"n":2},{"w":42,"e":1750,"n":2},{"w":43,"e":1750,"n":2},{"w":44,"e":1750,"n":1},{"w":45,"e":1750,"n":1},{"w":46,"e":1750,"n":1},{"w":47,"e":1750,"n":1},
{"w":0,"e":2250,"n":1},{"w":1,"e":2250,"n":1},{"w":2,"e":2250,"n":1},{"w":3,"e":2250,"n":1},{"w":4,"e":2250,"n":1},{"w":5,"e":2250,"n":1},{"w":6,"e":2250,"n":1},{"w":7,"e":2250,"n":1},{"w":8,"e":2250,"n":1},{"w":9,"e":2250,"n":1},{"w":10,"e":2250,"n":1},{"w":11,"e":2250,"n":1},{"w":12,"e":2250,"n":1},{"w":13,"e":2250,"n":1},{"w":14,"e":2250,"n":1},{"w":15,"e":2250,"n":1},{"w":16,"e":2250,"n":1},{"w":17,"e":2250,"n":1},{"w":18,"e":2250,"n":1},{"w":19,"e":2250,"n":1},{"w":20,"e":2250,"n":1},{"w":21,"e":2250,"n":1},{"w":22,"e":2250,"n":1},{"w":23,"e":2250,"n":1},{"w":24,"e":2250,"n":1},{"w":25,"e":2250,"n":1},{"w":26,"e":2250,"n":1},{"w":27,"e":2250,"n":1},{"w":28,"e":2250,"n":1},{"w":29,"e":2250,"n":1},{"w":30,"e":2250,"n":1},{"w":31,"e":2250,"n":1},{"w":32,"e":2250,"n":1},{"w":33,"e":2250,"n":1},{"w":34,"e":2250,"n":1},{"w":35,"e":2250,"n":1},{"w":36,"e":2250,"n":1},{"w":37,"e":2250,"n":1},{"w":38,"e":2250,"n":1},{"w":39,"e":2250,"n":1},{"w":40,"e":2250,"n":1},{"w":41,"e":2250,"n":1},{"w":42,"e":2250,"n":1},{"w":43,"e":2250,"n":1},{"w":44,"e":2250,"n":1},{"w":45,"e":2250,"n":1},{"w":46,"e":2250,"n":1},{"w":47,"e":2250,"n":1}],
"h6":[{"w":0,"e":250,"n":5},{"w":1,"e":250,"n":5},{"w":2,"e":250,"n":5},{"w":3,"e":250,"n":4},{"w":4,"e":250,"n":5},{"w":5,"e":250,"n":5},{"w":6,"e":250,"n":4},{"w":7,"e":250,"n":3},{"w":8,"e":250,"n":2},{"w":9,"e":250,"n":3},{"w":10,"e":250,"n":4},{"w":11,"e":250,"n":7},{"w":12,"e":250,"n":9},{"w":13,"e":250,"n":11},{"w":14,"e":250,"n":13},{"w":15,"e":250,"n":14},{"w":16,"e":250,"n":14},{"w":17,"e":250,"n":13},{"w":18,"e":250,"n":12},{"w":19,"e":250,"n":9},{"w":20,"e":250,"n":7},{"w":21,"e":250,"n":8},{"w":22,"e":250,"n":9},{"w":23,"e":250,"n":9},{"w":24,"e":250,"n":8},{"w":25,"e":250,"n":8},{"w":26,"e":250,"n":8},{"w":27,"e":250,"n":6},{"w":28,"e":250,"n":4},{"w":29,"e":250,"n":3},{"w":30,"e":250,"n":3},{"w":31,"e":250,"n":3},{"w":32,"e":250,"n":5},{"w":33,"e":250,"n":6},{"w":34,"e":250,"n":6},{"w":35,"e":250,"n":6},{"w":36,"e":250,"n":5},{"w":37,"e":250,"n":5},{"w":38,"e":250,"n":5},{"w":39,"e":250,"n":5},{"w":40,"e":250,"n":5},{"w":41,"e":250,"n":6},{"w":42,"e":250,"n":7},{"w":43,"e":250,"n":8},{"w":44,"e":250,"n":8},{"w":45,"e":250,"n":7},{"w":46,"e":250,"n":5},{"w":47,"e":250,"n":5},
{"w":0,"e":750,"n":4},{"w":1,"e":750,"n":4},{"w":2,"e":750,"n":3},{"w":3,"e":750,"n":3},{"w":4,"e":750,"n":4},{"w":5,"e":750,"n":4},{"w":6,"e":750,"n":3},{"w":7,"e":750,"n":2},{"w":8,"e":750,"n":2},{"w":9,"e":750,"n":3},{"w":10,"e":750,"n":4},{"w":11,"e":750,"n":5},{"w":12,"e":750,"n":8},{"w":13,"e":750,"n":8},{"w":14,"e":750,"n":9},{"w":15,"e":750,"n":10},{"w":16,"e":750,"n":11},{"w":17,"e":750,"n":10},{"w":18,"e":750,"n":9},{"w":19,"e":750,"n":7},{"w":20,"e":750,"n":6},{"w":21,"e":750,"n":6},{"w":22,"e":750,"n":6},{"w":23,"e":750,"n":6},{"w":24,"e":750,"n":5},{"w":25,"e":750,"n":5},{"w":26,"e":750,"n":5},{"w":27,"e":750,"n":5},{"w":28,"e":750,"n":3},{"w":29,"e":750,"n":2},{"w":30,"e":750,"n":1},{"w":31,"e":750,"n":2},{"w":32,"e":750,"n":3},{"w":33,"e":750,"n":3},{"w":34,"e":750,"n":3},{"w":35,"e":750,"n":3},{"w":36,"e":750,"n":4},{"w":37,"e":750,"n":4},{"w":38,"e":750,"n":4},{"w":39,"e":750,"n":4},{"w":40,"e":750,"n":5},{"w":41,"e":750,"n":5},{"w":42,"e":750,"n":5},{"w":43,"e":750,"n":5},{"w":44,"e":750,"n":6},{"w":45,"e":750,"n":7},{"w":46,"e":750,"n":4},{"w":47,"e":750,"n":4},
{"w":0,"e":1250,"n":2},{"w":1,"e":1250,"n":2},{"w":2,"e":1250,"n":2},{"w":3,"e":1250,"n":2},{"w":4,"e":1250,"n":2},{"w":5,"e":1250,"n":2},{"w":6,"e":1250,"n":2},{"w":7,"e":1250,"n":1},{"w":8,"e":1250,"n":1},{"w":9,"e":1250,"n":1},{"w":10,"e":1250,"n":1},{"w":11,"e":1250,"n":2},{"w":12,"e":1250,"n":2},{"w":13,"e":1250,"n":3},{"w":14,"e":1250,"n":4},{"w":15,"e":1250,"n":4},{"w":16,"e":1250,"n":5},{"w":17,"e":1250,"n":5},{"w":18,"e":1250,"n":4},{"w":19,"e":1250,"n":3},{"w":20,"e":1250,"n":2},{"w":21,"e":1250,"n":3},{"w":22,"e":1250,"n":4},{"w":23,"e":1250,"n":3},{"w":24,"e":1250,"n":2},{"w":25,"e":1250,"n":2},{"w":26,"e":1250,"n":3},{"w":27,"e":1250,"n":3},{"w":28,"e":1250,"n":2},{"w":29,"e":1250,"n":2},{"w":30,"e":1250,"n":1},{"w":31,"e":1250,"n":1},{"w":32,"e":1250,"n":2},{"w":33,"e":1250,"n":2},{"w":34,"e":1250,"n":2},{"w":35,"e":1250,"n":2},{"w":36,"e":1250,"n":2},{"w":37,"e":1250,"n":2},{"w":38,"e":1250,"n":2},{"w":39,"e":1250,"n":2},{"w":40,"e":1250,"n":3},{"w":41,"e":1250,"n":3},{"w":42,"e":1250,"n":2},{"w":43,"e":1250,"n":2},{"w":44,"e":1250,"n":2},{"w":45,"e":1250,"n":2},{"w":46,"e":1250,"n":2},{"w":47,"e":1250,"n":2},
{"w":0,"e":1750,"n":1},{"w":1,"e":1750,"n":1},{"w":2,"e":1750,"n":1},{"w":3,"e":1750,"n":1},{"w":4,"e":1750,"n":1},{"w":5,"e":1750,"n":2},{"w":6,"e":1750,"n":2},{"w":7,"e":1750,"n":1},{"w":8,"e":1750,"n":1},{"w":9,"e":1750,"n":1},{"w":10,"e":1750,"n":1},{"w":11,"e":1750,"n":1},{"w":12,"e":1750,"n":1},{"w":13,"e":1750,"n":1},{"w":14,"e":1750,"n":1},{"w":15,"e":1750,"n":1},{"w":16,"e":1750,"n":1},{"w":17,"e":1750,"n":1},{"w":18,"e":1750,"n":1},{"w":19,"e":1750,"n":1},{"w":20,"e":1750,"n":1},{"w":21,"e":1750,"n":2},{"w":22,"e":1750,"n":2},{"w":23,"e":1750,"n":1},{"w":24,"e":1750,"n":1},{"w":25,"e":1750,"n":1},{"w":26,"e":1750,"n":1},{"w":27,"e":1750,"n":1},{"w":28,"e":1750,"n":1},{"w":33,"e":1750,"n":1},{"w":34,"e":1750,"n":1},{"w":35,"e":1750,"n":1},{"w":36,"e":1750,"n":1},{"w":37,"e":1750,"n":1},{"w":38,"e":1750,"n":1},{"w":39,"e":1750,"n":1},{"w":40,"e":1750,"n":2},{"w":41,"e":1750,"n":2},{"w":42,"e":1750,"n":2},{"w":43,"e":1750,"n":1},{"w":44,"e":1750,"n":1},{"w":47,"e":1750,"n":1},
{"w":0,"e":2250,"n":1},{"w":1,"e":2250,"n":1},{"w":4,"e":2250,"n":1},{"w":5,"e":2250,"n":1},{"w":6,"e":2250,"n":1},{"w":7,"e":2250,"n":1},{"w":8,"e":2250,"n":1},{"w":9,"e":2250,"n":1},{"w":10,"e":2250,"n":1},{"w":11,"e":2250,"n":1},{"w":12,"e":2250,"n":1},{"w":13,"e":2250,"n":1},{"w":14,"e":2250,"n":1},{"w":15,"e":2250,"n":1},{"w":16,"e":2250,"n":1},{"w":17,"e":2250,"n":1},{"w":18,"e":2250,"n":1},{"w":19,"e":2250,"n":1},{"w":20,"e":2250,"n":1},{"w":21,"e":2250,"n":1},{"w":22,"e":2250,"n":1},{"w":39,"e":2250,"n":1},{"w":40,"e":2250,"n":1},{"w":41,"e":2250,"n":1},{"w":42,"e":2250,"n":1},{"w":43,"e":2250,"n":1},{"w":44,"e":2250,"n":1},{"w":47,"e":2250,"n":1},
{"w":5,"e":2750,"n":1},{"w":6,"e":2750,"n":1},{"w":7,"e":2750,"n":1},{"w":10,"e":2750,"n":1},{"w":11,"e":2750,"n":1},{"w":12,"e":2750,"n":1},{"w":40,"e":2750,"n":1},{"w":41,"e":2750,"n":1},{"w":42,"e":2750,"n":1},{"w":43,"e":2750,"n":1}]
},
"spacing":596,"bounds":"flush",
"vconcat":[
{"columns":4,"spacing":0,"bounds":"flush","align":"each","concat":[
{"width":47,"height":30,"data":{"name":"frame"},"mark":{"type":"rule","color":"#000","strokeWidth":1},"encoding":{"x":{"field":"x","type":"quantitative","axis":null,"scale":{"domain":[0,0.1175],"nice":false}},"x2":{"field":"x2"},"y":{"field":"y","type":"quantitative","axis":null,"scale":{"domain":[0,0.15228],"reverse":true,"nice":false}},"y2":{"field":"y2"}}},{"width":300,"height":30,"data":{"name":"none"},"mark":{"type":"point","opacity":0}},{"width":100,"height":30,"data":{"name":"none"},"mark":{"type":"point","opacity":0}},{"width":300,"height":30,"data":{"name":"none"},"mark":{"type":"point","opacity":0}},

{"width":47,"height":126,"layer":[{"data":{"name":"l1"},"mark":{"type":"area","orient":"vertical","color":"#9048cc"},"encoding":{"x":{"field":"f","type":"quantitative","axis":null,"scale":{"domain":[-10,107.5],"nice":false}},"y":{"field":"h","type":"quantitative","axis":null,"scale":{"domain":[0,14000],"nice":false}}}},{"mark":{"type":"rule","color":"#808070"},"encoding":{"x":{"datum":100}}}]},
{"width":300,"height":126,"view":{"fill":"#fff"},"title":{"text":"ZONE 1","fontSize":13,"font":"Liberation Sans","fontWeight":"bold","color":"#000","anchor":"middle","offset":-1},"layer":[{"data":{"name":"h1"},"mark":{"type":"rect","width":6.5,"height":4.75},"encoding":{"x":{"field":"w","type":"quantitative","scale":{"domain":[-0.5,47.5],"nice":false,"zero":false},"axis":{"orient":"top","tickCount":50,"values":[1.5,5.5,9.5,13.5,17.5,21.5,25.5,29.5,33.5,37.5,41.5,45.5],"labelExpr":"['Jan','Feb','Mar','Apr','May','Jun','Jul','Aug','Sep','Oct','Nov','Dec'][round((datum.value-1.5)/4)]","title":null,"domain":false,"ticks":false,"grid":false,"labelPadding":2,"labelAngle":0,"labelOverlap":false,"labelFlush":false}},"y":{"field":"e","type":"quantitative","scale":{"domain":[0,14000],"nice":false},"axis":{"orient":"right","tickCount":50,"values":[0,2000,4000,6000,8000,10000,12000,14000],"format":",d","title":null,"domain":false,"ticks":false,"grid":false,"labelAlign":"left","labelPadding":{"condition":{"test":"datum.value>=10000","value":4},"value":10},"labelOverlap":false,"labelFlush":false}},"color":{"field":"n","type":"ordinal","scale":{"domain":[1,2,3,4,5,6,7,8,9,10,11,12,13,14]},"legend":null}}},{"data":{"name":"yd"},"mark":{"type":"rule","color":"#555","strokeDash":[1,2]},"encoding":{"y":{"field":"e","type":"quantitative"}}},{"data":{"name":"ys"},"mark":{"type":"rule","color":"#000"},"encoding":{"y":{"field":"e","type":"quantitative"}}},{"data":{"name":"mg"},"mark":{"type":"rule","color":"#000"},"encoding":{"x":{"field":"w","type":"quantitative"}}}]},
{"width":100,"height":126,"layer":[{"data":{"name":"l2"},"mark":{"type":"area","orient":"vertical","color":"#9048cc"},"encoding":{"x":{"field":"f","type":"quantitative","axis":null,"scale":{"domain":[-142.5,107.5],"nice":false}},"y":{"field":"h","type":"quantitative","axis":null,"scale":{"domain":[0,14000],"nice":false}}}},{"mark":{"type":"rule","color":"#808070"},"encoding":{"x":{"datum":100}}}]},
{"width":300,"height":126,"view":{"fill":"#fff"},"title":{"text":"ZONE 2","fontSize":13,"font":"Liberation Sans","fontWeight":"bold","color":"#000","anchor":"middle","offset":-1},"layer":[{"data":{"name":"h2"},"mark":{"type":"rect","width":6.5,"height":4.75},"encoding":{"x":{"field":"w","type":"quantitative","scale":{"domain":[-0.5,47.5],"nice":false,"zero":false},"axis":{"orient":"top","tickCount":50,"values":[1.5,5.5,9.5,13.5,17.5,21.5,25.5,29.5,33.5,37.5,41.5,45.5],"labelExpr":"['Jan','Feb','Mar','Apr','May','Jun','Jul','Aug','Sep','Oct','Nov','Dec'][round((datum.value-1.5)/4)]","title":null,"domain":false,"ticks":false,"grid":false,"labelPadding":2,"labelAngle":0,"labelOverlap":false,"labelFlush":false}},"y":{"field":"e","type":"quantitative","scale":{"domain":[0,14000],"nice":false},"axis":{"orient":"right","tickCount":50,"values":[0,2000,4000,6000,8000,10000,12000,14000],"format":",d","title":null,"domain":false,"ticks":false,"grid":false,"labelAlign":"left","labelPadding":{"condition":{"test":"datum.value>=10000","value":4},"value":10},"labelOverlap":false,"labelFlush":false}},"color":{"field":"n","type":"ordinal","scale":{"domain":[1,2,3,4,5,6,7,8,9,10,11,12,13,14]},"legend":null}}},{"data":{"name":"yd"},"mark":{"type":"rule","color":"#555","strokeDash":[1,2]},"encoding":{"y":{"field":"e","type":"quantitative"}}},{"data":{"name":"ys"},"mark":{"type":"rule","color":"#000"},"encoding":{"y":{"field":"e","type":"quantitative"}}},{"data":{"name":"mg"},"mark":{"type":"rule","color":"#000"},"encoding":{"x":{"field":"w","type":"quantitative"}}}]},

{"width":47,"height":71,"data":{"name":"none"},"mark":{"type":"point","opacity":0}},
{"width":300,"height":71,"layer":[{"data":{"name":"b1"},"mark":{"type":"area","color":"#9048cc","interpolate":"monotone"},"encoding":{"x":{"field":"t","type":"quantitative","axis":null,"scale":{"domain":[0,12],"nice":false}},"y":{"field":"v","type":"quantitative","axis":null,"scale":{"domain":[-86.1,111.1],"nice":false}}}},{"data":{"name":"b1"},"transform":[{"filter":"datum.t%1==0&&datum.t>0&&datum.t<12"}],"mark":{"type":"rule","color":"#6b3a9b"},"encoding":{"x":{"field":"t","type":"quantitative"},"y":{"field":"v","type":"quantitative"},"y2":{"datum":0}}},{"mark":{"type":"rule","color":"#77607f"},"encoding":{"y":{"datum":0}}}]},
{"width":100,"height":71,"data":{"name":"none"},"mark":{"type":"point","opacity":0}},
{"width":300,"height":71,"layer":[{"data":{"name":"b2"},"mark":{"type":"area","color":"#9048cc","interpolate":"monotone"},"encoding":{"x":{"field":"t","type":"quantitative","axis":null,"scale":{"domain":[0,12],"nice":false}},"y":{"field":"v","type":"quantitative","axis":null,"scale":{"domain":[-86.1,111.1],"nice":false}}}},{"data":{"name":"b2"},"transform":[{"filter":"datum.t%1==0&&datum.t>0&&datum.t<12"}],"mark":{"type":"rule","color":"#6b3a9b"},"encoding":{"x":{"field":"t","type":"quantitative"},"y":{"field":"v","type":"quantitative"},"y2":{"datum":0}}},{"mark":{"type":"rule","color":"#77607f"},"encoding":{"y":{"datum":0}}}]},

{"width":47,"height":126,"layer":[{"data":{"name":"l3"},"mark":{"type":"area","orient":"vertical","color":"#9048cc"},"encoding":{"x":{"field":"f","type":"quantitative","axis":null,"scale":{"domain":[-10,107.5],"nice":false}},"y":{"field":"h","type":"quantitative","axis":null,"scale":{"domain":[0,14000],"nice":false}}}},{"mark":{"type":"rule","color":"#808070"},"encoding":{"x":{"datum":100}}}]},
{"width":300,"height":126,"view":{"fill":"#fff"},"title":{"text":"ZONE 3","fontSize":13,"font":"Liberation Sans","fontWeight":"bold","color":"#000","anchor":"middle","offset":-1},"layer":[{"data":{"name":"h3"},"mark":{"type":"rect","width":6.5,"height":4.75},"encoding":{"x":{"field":"w","type":"quantitative","scale":{"domain":[-0.5,47.5],"nice":false,"zero":false},"axis":{"orient":"top","tickCount":50,"values":[1.5,5.5,9.5,13.5,17.5,21.5,25.5,29.5,33.5,37.5,41.5,45.5],"labelExpr":"['Jan','Feb','Mar','Apr','May','Jun','Jul','Aug','Sep','Oct','Nov','Dec'][round((datum.value-1.5)/4)]","title":null,"domain":false,"ticks":false,"grid":false,"labelPadding":2,"labelAngle":0,"labelOverlap":false,"labelFlush":false}},"y":{"field":"e","type":"quantitative","scale":{"domain":[0,14000],"nice":false},"axis":{"orient":"right","tickCount":50,"values":[0,2000,4000,6000,8000,10000,12000,14000],"format":",d","title":null,"domain":false,"ticks":false,"grid":false,"labelAlign":"left","labelPadding":{"condition":{"test":"datum.value>=10000","value":4},"value":10},"labelOverlap":false,"labelFlush":false}},"color":{"field":"n","type":"ordinal","scale":{"domain":[1,2,3,4,5,6,7,8,9,10,11,12,13,14]},"legend":null}}},{"data":{"name":"yd"},"mark":{"type":"rule","color":"#555","strokeDash":[1,2]},"encoding":{"y":{"field":"e","type":"quantitative"}}},{"data":{"name":"ys"},"mark":{"type":"rule","color":"#000"},"encoding":{"y":{"field":"e","type":"quantitative"}}},{"data":{"name":"mg"},"mark":{"type":"rule","color":"#000"},"encoding":{"x":{"field":"w","type":"quantitative"}}}]},
{"width":100,"height":126,"layer":[{"data":{"name":"l4"},"mark":{"type":"area","orient":"vertical","color":"#9048cc"},"encoding":{"x":{"field":"f","type":"quantitative","axis":null,"scale":{"domain":[-142.5,107.5],"nice":false}},"y":{"field":"h","type":"quantitative","axis":null,"scale":{"domain":[0,14000],"nice":false}}}},{"mark":{"type":"rule","color":"#808070"},"encoding":{"x":{"datum":100}}}]},
{"width":300,"height":126,"view":{"fill":"#fff"},"title":{"text":"ZONE 4","fontSize":13,"font":"Liberation Sans","fontWeight":"bold","color":"#000","anchor":"middle","offset":-1},"layer":[{"data":{"name":"h4"},"mark":{"type":"rect","width":6.5,"height":4.75},"encoding":{"x":{"field":"w","type":"quantitative","scale":{"domain":[-0.5,47.5],"nice":false,"zero":false},"axis":{"orient":"top","tickCount":50,"values":[1.5,5.5,9.5,13.5,17.5,21.5,25.5,29.5,33.5,37.5,41.5,45.5],"labelExpr":"['Jan','Feb','Mar','Apr','May','Jun','Jul','Aug','Sep','Oct','Nov','Dec'][round((datum.value-1.5)/4)]","title":null,"domain":false,"ticks":false,"grid":false,"labelPadding":2,"labelAngle":0,"labelOverlap":false,"labelFlush":false}},"y":{"field":"e","type":"quantitative","scale":{"domain":[0,14000],"nice":false},"axis":{"orient":"right","tickCount":50,"values":[0,2000,4000,6000,8000,10000,12000,14000],"format":",d","title":null,"domain":false,"ticks":false,"grid":false,"labelAlign":"left","labelPadding":{"condition":{"test":"datum.value>=10000","value":4},"value":10},"labelOverlap":false,"labelFlush":false}},"color":{"field":"n","type":"ordinal","scale":{"domain":[1,2,3,4,5,6,7,8,9,10,11,12,13,14]},"legend":null}}},{"data":{"name":"yd"},"mark":{"type":"rule","color":"#555","strokeDash":[1,2]},"encoding":{"y":{"field":"e","type":"quantitative"}}},{"data":{"name":"ys"},"mark":{"type":"rule","color":"#000"},"encoding":{"y":{"field":"e","type":"quantitative"}}},{"data":{"name":"mg"},"mark":{"type":"rule","color":"#000"},"encoding":{"x":{"field":"w","type":"quantitative"}}}]},

{"width":47,"height":71,"data":{"name":"none"},"mark":{"type":"point","opacity":0}},
{"width":300,"height":71,"layer":[{"data":{"name":"b3"},"mark":{"type":"area","color":"#9048cc","interpolate":"monotone"},"encoding":{"x":{"field":"t","type":"quantitative","axis":null,"scale":{"domain":[0,12],"nice":false}},"y":{"field":"v","type":"quantitative","axis":null,"scale":{"domain":[-86.1,111.1],"nice":false}}}},{"data":{"name":"b3"},"transform":[{"filter":"datum.t%1==0&&datum.t>0&&datum.t<12"}],"mark":{"type":"rule","color":"#6b3a9b"},"encoding":{"x":{"field":"t","type":"quantitative"},"y":{"field":"v","type":"quantitative"},"y2":{"datum":0}}},{"mark":{"type":"rule","color":"#77607f"},"encoding":{"y":{"datum":0}}}]},
{"width":100,"height":71,"data":{"name":"none"},"mark":{"type":"point","opacity":0}},
{"width":300,"height":71,"layer":[{"data":{"name":"b4"},"mark":{"type":"area","color":"#9048cc","interpolate":"monotone"},"encoding":{"x":{"field":"t","type":"quantitative","axis":null,"scale":{"domain":[0,12],"nice":false}},"y":{"field":"v","type":"quantitative","axis":null,"scale":{"domain":[-86.1,111.1],"nice":false}}}},{"data":{"name":"b4"},"transform":[{"filter":"datum.t%1==0&&datum.t>0&&datum.t<12"}],"mark":{"type":"rule","color":"#6b3a9b"},"encoding":{"x":{"field":"t","type":"quantitative"},"y":{"field":"v","type":"quantitative"},"y2":{"datum":0}}},{"mark":{"type":"rule","color":"#77607f"},"encoding":{"y":{"datum":0}}}]},

{"width":47,"height":126,"layer":[{"data":{"name":"l5"},"mark":{"type":"area","orient":"vertical","color":"#9048cc"},"encoding":{"x":{"field":"f","type":"quantitative","axis":null,"scale":{"domain":[-10,107.5],"nice":false}},"y":{"field":"h","type":"quantitative","axis":null,"scale":{"domain":[0,14000],"nice":false}}}},{"mark":{"type":"rule","color":"#808070"},"encoding":{"x":{"datum":100}}}]},
{"width":300,"height":126,"view":{"fill":"#fff"},"title":{"text":"ZONE 5","fontSize":13,"font":"Liberation Sans","fontWeight":"bold","color":"#000","anchor":"middle","offset":-1},"layer":[{"data":{"name":"h5"},"mark":{"type":"rect","width":6.5,"height":4.75},"encoding":{"x":{"field":"w","type":"quantitative","scale":{"domain":[-0.5,47.5],"nice":false,"zero":false},"axis":{"orient":"top","tickCount":50,"values":[1.5,5.5,9.5,13.5,17.5,21.5,25.5,29.5,33.5,37.5,41.5,45.5],"labelExpr":"['Jan','Feb','Mar','Apr','May','Jun','Jul','Aug','Sep','Oct','Nov','Dec'][round((datum.value-1.5)/4)]","title":null,"domain":false,"ticks":false,"grid":false,"labelPadding":2,"labelAngle":0,"labelOverlap":false,"labelFlush":false}},"y":{"field":"e","type":"quantitative","scale":{"domain":[0,14000],"nice":false},"axis":{"orient":"right","tickCount":50,"values":[0,2000,4000,6000,8000,10000,12000,14000],"format":",d","title":null,"domain":false,"ticks":false,"grid":false,"labelAlign":"left","labelPadding":{"condition":{"test":"datum.value>=10000","value":4},"value":10},"labelOverlap":false,"labelFlush":false}},"color":{"field":"n","type":"ordinal","scale":{"domain":[1,2,3,4,5,6,7,8,9,10,11,12,13,14]},"legend":null}}},{"data":{"name":"yd"},"mark":{"type":"rule","color":"#555","strokeDash":[1,2]},"encoding":{"y":{"field":"e","type":"quantitative"}}},{"data":{"name":"ys"},"mark":{"type":"rule","color":"#000"},"encoding":{"y":{"field":"e","type":"quantitative"}}},{"data":{"name":"mg"},"mark":{"type":"rule","color":"#000"},"encoding":{"x":{"field":"w","type":"quantitative"}}}]},
{"width":100,"height":126,"layer":[{"data":{"name":"l6"},"mark":{"type":"area","orient":"vertical","color":"#9048cc"},"encoding":{"x":{"field":"f","type":"quantitative","axis":null,"scale":{"domain":[-142.5,107.5],"nice":false}},"y":{"field":"h","type":"quantitative","axis":null,"scale":{"domain":[0,14000],"nice":false}}}},{"mark":{"type":"rule","color":"#808070"},"encoding":{"x":{"datum":100}}}]},
{"width":300,"height":126,"view":{"fill":"#fff"},"title":{"text":"ALL ZONES","fontSize":13,"font":"Liberation Sans","fontWeight":"bold","color":"#000","anchor":"middle","offset":-1},"layer":[{"data":{"name":"h6"},"mark":{"type":"rect","width":6.5,"height":4.75},"encoding":{"x":{"field":"w","type":"quantitative","scale":{"domain":[-0.5,47.5],"nice":false,"zero":false},"axis":{"orient":"top","tickCount":50,"values":[1.5,5.5,9.5,13.5,17.5,21.5,25.5,29.5,33.5,37.5,41.5,45.5],"labelExpr":"['Jan','Feb','Mar','Apr','May','Jun','Jul','Aug','Sep','Oct','Nov','Dec'][round((datum.value-1.5)/4)]","title":null,"domain":false,"ticks":false,"grid":false,"labelPadding":2,"labelAngle":0,"labelOverlap":false,"labelFlush":false}},"y":{"field":"e","type":"quantitative","scale":{"domain":[0,14000],"nice":false},"axis":{"orient":"right","tickCount":50,"values":[0,2000,4000,6000,8000,10000,12000,14000],"format":",d","title":null,"domain":false,"ticks":false,"grid":false,"labelAlign":"left","labelPadding":{"condition":{"test":"datum.value>=10000","value":4},"value":10},"labelOverlap":false,"labelFlush":false}},"color":{"field":"n","type":"ordinal","scale":{"domain":[1,2,3,4,5,6,7,8,9,10,11,12,13,14]},"legend":null}}},{"data":{"name":"yd"},"mark":{"type":"rule","color":"#555","strokeDash":[1,2]},"encoding":{"y":{"field":"e","type":"quantitative"}}},{"data":{"name":"ys"},"mark":{"type":"rule","color":"#000"},"encoding":{"y":{"field":"e","type":"quantitative"}}},{"data":{"name":"mg"},"mark":{"type":"rule","color":"#000"},"encoding":{"x":{"field":"w","type":"quantitative"}}}]},

{"width":47,"height":41,"data":{"name":"none"},"mark":{"type":"point","opacity":0}},
{"width":300,"height":41,"layer":[{"data":{"name":"b5"},"mark":{"type":"area","color":"#9048cc","interpolate":"monotone"},"encoding":{"x":{"field":"t","type":"quantitative","axis":null,"scale":{"domain":[0,12],"nice":false}},"y":{"field":"v","type":"quantitative","axis":null,"scale":{"domain":[-2.8,111.1],"nice":false}}}},{"data":{"name":"b5"},"transform":[{"filter":"datum.t%1==0&&datum.t>0&&datum.t<12"}],"mark":{"type":"rule","color":"#6b3a9b"},"encoding":{"x":{"field":"t","type":"quantitative"},"y":{"field":"v","type":"quantitative"},"y2":{"datum":0}}},{"mark":{"type":"rule","color":"#77607f"},"encoding":{"y":{"datum":0}}}]},
{"width":100,"height":41,"data":{"name":"none"},"mark":{"type":"point","opacity":0}},
{"width":300,"height":41,"layer":[{"data":{"name":"b6"},"mark":{"type":"area","color":"#9048cc","interpolate":"monotone"},"encoding":{"x":{"field":"t","type":"quantitative","axis":null,"scale":{"domain":[0,12],"nice":false}},"y":{"field":"v","type":"quantitative","axis":null,"scale":{"domain":[-2.8,111.1],"nice":false}}}},{"data":{"name":"b6"},"transform":[{"filter":"datum.t%1==0&&datum.t>0&&datum.t<12"}],"mark":{"type":"rule","color":"#6b3a9b"},"encoding":{"x":{"field":"t","type":"quantitative"},"y":{"field":"v","type":"quantitative"},"y2":{"datum":0}}},{"mark":{"type":"rule","color":"#77607f"},"encoding":{"y":{"datum":0}}}]}
]},
{"spacing":0,"bounds":"flush","hconcat":[
{"width":96,"height":99,"data":{"values":[{"zone":"ZONE 1","pos":9.3,"right":83},{"zone":"ZONE 2","pos":29,"right":83},{"zone":"ZONE 3","pos":51.3,"right":83},{"zone":"ZONE 4","pos":70.7,"right":83},{"zone":"ZONE 5","pos":90.7,"right":83}]},"mark":{"type":"text","align":"right","baseline":"middle","font":"Liberation Sans","fontSize":13,"fontWeight":"bold","color":"#000"},"encoding":{"x":{"field":"right","type":"quantitative","axis":null,"scale":{"domain":[0,96],"nice":false}},"y":{"field":"pos","type":"quantitative","axis":null,"scale":{"domain":[0,99],"reverse":true,"nice":false}},"text":{"field":"zone"}}},
{"width":195,"height":99,"view":{"fill":"#9ab0cb"},"projection":{"type":"mercator","scale":156.6,"center":[-94.4,39.9],"translate":[97.5,49.5]},"layer":[
{"data":{"values":{"type":"FeatureCollection","features":[{"type":"Feature","properties":{},"geometry":{"type":"Polygon","coordinates":[[[-140,60],[-120,60],[-100,60],[-80,60],[-60,60],[-56,52],[-60,50],[-66,50],[-70,47],[-65,49],[-65,47],[-64,46],[-60,46],[-64,44],[-66,43.5],[-66,45],[-67,45],[-69,44],[-70,43.5],[-70.7,42.5],[-70,42],[-70,41.6],[-71.5,41.4],[-74,40.6],[-74,39.5],[-75.5,38.5],[-75.5,37.5],[-76,37],[-75.6,35.5],[-76.5,34.6],[-78,33.9],[-79.5,33],[-81,32],[-81.4,30.5],[-80.5,28.5],[-80,26.8],[-80.3,25.3],[-81,25.1],[-81.8,26],[-82.7,27.7],[-82.8,29],[-84,30],[-85.3,29.7],[-86.5,30.4],[-88,30.3],[-89.5,30.2],[-89.3,29.1],[-90.5,29.2],[-92,29.6],[-94,29.6],[-95.3,28.9],[-97,27.8],[-97.4,26],[-97.8,24],[-97.8,22],[-105.5,22],[-109,25.5],[-112,29],[-113,31.3],[-114.8,31.7],[-114.5,30],[-112.5,27.5],[-111,25],[-110,23],[-112,24.5],[-114,27],[-115.5,28.5],[-116,30.5],[-117.1,32.5],[-118.5,34],[-120.6,34.6],[-121.8,36.5],[-122.5,37.8],[-123.8,39.5],[-124.3,40.4],[-124.2,43],[-124,46],[-124.7,48.4],[-123,48.2],[-122.5,47.5],[-122.5,49],[-125,50],[-128,51],[-130,54],[-135,58],[-140,60]]]}}]},"format":{"type":"json","property":"features"}},"mark":{"type":"geoshape","fill":"#fff","stroke":null,"clip":true}},
{"data":{"values":{"type":"FeatureCollection","features":[{"type":"Feature","properties":{},"geometry":{"type":"MultiPolygon","coordinates":[[[[-92,46.8],[-89.5,48],[-87,48.8],[-85,47.9],[-84.8,46.6],[-87,46.5],[-90,46.6],[-92,46.8]]],[[[-87.8,41.7],[-87.9,43.5],[-87.5,45.5],[-85.5,46],[-85,45.7],[-86.3,44],[-86.5,42.5],[-87,41.7],[-87.8,41.7]]],[[[-83.5,43.7],[-84.5,45.8],[-82,46.1],[-80,45],[-81.7,43.5],[-82.4,43],[-83.5,43.7]]],[[[-83.4,41.7],[-83,42.1],[-80,42.8],[-78.9,42.9],[-79.5,42.3],[-81.5,41.5],[-83.4,41.7]]],[[[-79.7,43.3],[-79,43.9],[-76.5,44.2],[-76.2,43.5],[-78,43.3],[-79.7,43.3]]]]}}]},"format":{"type":"json","property":"features"}},"mark":{"type":"geoshape","fill":"#9ab0cb","stroke":null,"clip":true}},
{"data":{"values":{"type":"FeatureCollection","features":[{"type":"Feature","properties":{},"geometry":{"type":"MultiLineString","coordinates":[[[-123,49],[-95,49],[-89.5,48]],[[-76.5,44.2],[-74.7,45],[-71.5,45],[-70.3,45.9],[-69.2,47.4],[-68,47.3],[-67.8,45.7],[-67,45]],[[-117.1,32.5],[-114.7,32.7],[-111,31.3],[-108.2,31.3],[-108.2,31.8],[-106.5,31.8],[-104.5,29.6],[-103,29],[-101.5,29.8],[-99.5,27.5],[-97.2,25.9]],[[-124,46.2],[-119,46],[-117,46]],[[-117,49],[-117,42]],[[-124.2,42],[-111,42]],[[-116,49],[-116,47.5],[-114.5,46.5],[-114,45.5],[-111,44.5]],[[-111,45],[-111,41],[-109,41]],[[-111,45],[-104,45]],[[-104,49],[-104,41]],[[-109,41],[-102,41],[-102,37]],[[-104,46],[-96.5,46]],[[-104,43],[-98.5,43],[-96.5,42.5]],[[-97.2,49],[-96.5,46],[-96.5,42.5],[-95.8,40.6],[-94.6,39.1],[-94.6,36.5],[-94.5,33.6]],[[-96.5,43.5],[-91.2,43.5]],[[-95.8,40.6],[-91.5,40.6]],[[-92,46.7],[-92.8,45.5],[-91.2,43.5],[-90.6,41.5],[-91.5,40.4],[-90.2,38.7],[-89.2,37],[-89.6,36],[-90.2,35],[-91.1,33],[-91.5,31],[-89.7,31]],[[-90.6,42.5],[-87.8,42.5]],[[-87.5,41.7],[-87.5,39.3],[-88,37.8]],[[-89.2,37],[-88,37.8],[-86,38],[-84.8,39.1],[-82.6,38.4],[-80.6,40.6]],[[-84.8,39.1],[-84.8,41.7]],[[-87,41.75],[-83.4,41.7]],[[-80.5,40.6],[-80.5,42.3]],[[-79.8,42],[-75.3,42],[-74.7,41.3],[-75,40],[-75.8,39.7],[-80.5,39.7]],[[-73.3,45],[-73.3,42.7],[-73.5,41.2]],[[-73.5,42],[-71.8,42]],[[-71.5,45],[-72.5,42.7]],[[-73.3,42.7],[-71,42.8]],[[-71,45.2],[-70.7,43.1]],[[-89.5,36.5],[-81.7,36.6],[-75.9,36.6]],[[-82,37.5],[-80,37.5],[-78,39.3]],[[-90.2,35],[-84.3,35],[-81.7,36.6]],[[-85.6,35],[-85,32.3],[-85,31],[-87.6,31],[-87.5,30.3]],[[-88.2,35],[-88.4,30.3]],[[-85,30.7],[-82,30.5]],[[-83.1,35],[-81,32]],[[-84.3,35],[-82,35.2],[-79,34.5],[-78.6,33.9]],[[-94.6,36.5],[-90,36.5]],[[-94,33],[-91.1,33]],[[-94,33],[-94,29.7]],[[-100,36.5],[-100,34.6],[-97,33.8],[-94.5,33.6]],[[-103,36.5],[-100,36.5]],[[-103,37],[-94.6,37]],[[-102,40],[-95.3,40]],[[-109,41],[-109,31.3]],[[-114,42],[-114,37],[-114.7,36],[-114.6,35]],[[-114,37],[-102,37]],[[-103,37],[-103,32],[-106.6,32]],[[-114.6,35],[-114.7,32.7]],[[-120,42],[-120,39],[-114.6,35]],[[-110,49],[-110,60]],[[-102,49],[-102,60]],[[-120,49],[-120,60]],[[-95,49],[-95,52],[-89,57]],[[-79.5,47],[-79.5,52]]]}}]},"format":{"type":"json","property":"features"}},"mark":{"type":"geoshape","filled":false,"stroke":"#c4c4c4","strokeWidth":0.8,"clip":true}},
{"data":{"values":[{"lat":48.5,"lon":-130,"lon2":-58.7},{"lat":42.1,"lon":-130,"lon2":-58.7},{"lat":36.7,"lon":-130,"lon2":-58.7},{"lat":30.6,"lon":-130,"lon2":-58.7}]},"mark":{"type":"rule","color":"#000"},"encoding":{"latitude":{"field":"lat","type":"quantitative"},"longitude":{"field":"lon","type":"quantitative"},"latitude2":{"field":"lat"},"longitude2":{"field":"lon2"}}}
]}
]}
]}
